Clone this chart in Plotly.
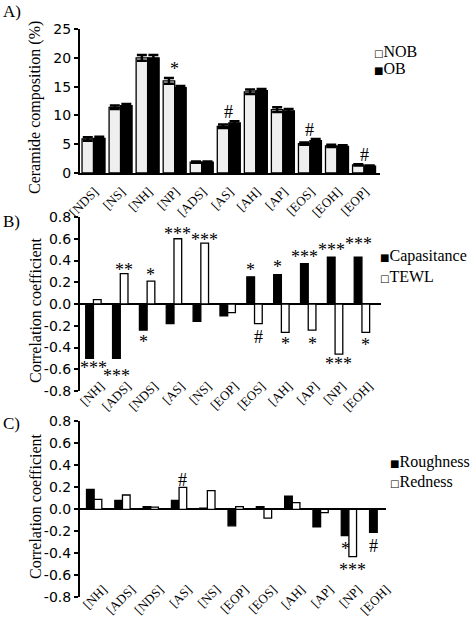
import plotly.graph_objects as go

W, H = 472, 619

# ---------------- Data ----------------
cat_A = ["[NDS]", "[NS]", "[NH]", "[NP]", "[ADS]", "[AS]", "[AH]", "[AP]", "[EOS]", "[EOH]", "[EOP]"]
nob = [5.9, 11.4, 20.0, 16.0, 1.9, 8.1, 14.1, 11.0, 5.1, 4.7, 1.4]
ob = [6.0, 11.7, 20.0, 14.8, 1.9, 8.7, 14.3, 10.8, 5.6, 4.6, 1.2]
nob_err = [0.3, 0.3, 0.5, 0.5, 0.1, 0.3, 0.4, 0.4, 0.2, 0.2, 0.1]
ob_err = [0.3, 0.3, 0.5, 0.3, 0.1, 0.3, 0.3, 0.3, 0.3, 0.2, 0.1]
sig_A = [(3, "*"), (5, "#"), (8, "#"), (10, "#")]  # (category index, text)

cat_B = ["[NH]", "[ADS]", "[NDS]", "[AS]", "[NS]", "[EOP]", "[EOS]", "[AH]", "[AP]", "[NP]", "[EOH]"]
capacitance = [-0.50, -0.50, -0.24, -0.18, -0.16, -0.11, 0.25, 0.27, 0.37, 0.43, 0.43]
tewl = [0.04, 0.28, 0.21, 0.60, 0.56, -0.08, -0.18, -0.26, -0.24, -0.46, -0.26]
# (category index, side: -1 black / +1 white / 0 centre, text, y)
sig_B = [(0, 0, "***", -0.56), (1, -1, "***", -0.63), (1, 1, "**", 0.34),
         (2, 1, "*", 0.29), (2, -1, "*", -0.32), (3, 1, "***", 0.67), (4, 1, "***", 0.62),
         (6, -1, "*", 0.34), (6, 1, "#", -0.275), (7, -1, "*", 0.37), (7, 1, "*", -0.34),
         (8, -1, "***", 0.46), (8, 1, "*", -0.34), (9, -1, "***", 0.52), (9, 1, "***", -0.52),
         (10, -1, "***", 0.58), (10, 1, "*", -0.35)]

cat_C = ["[NH]", "[ADS]", "[NDS]", "[AS]", "[NS]", "[EOP]", "[EOS]", "[AH]", "[AP]", "[NP]", "[EOH]"]
roughness = [0.18, 0.08, 0.025, 0.08, 0.01, -0.15, 0.025, 0.12, -0.16, -0.24, -0.21]
redness = [0.09, 0.13, 0.02, 0.20, 0.17, 0.025, -0.08, 0.06, -0.03, -0.43, 0.0]
sig_C = [(3, 1, "#", 0.29), (9, -1, "*", -0.33), (9, 1, "***", -0.52), (10, -1, "#", -0.31)]

corr_ticks = [-0.8, -0.6, -0.4, -0.2, 0.0, 0.2, 0.4, 0.6, 0.8]
corr_ticktext = ["-0.8", "-0.6", "-0.4", "-0.2", "0.0", "0.2", "0.4", "0.6", "0.8"]
comp_ticks = [0, 5, 10, 15, 20, 25]

# ---------------- Styling ----------------
SERIF = "Liberation Serif, Times New Roman, serif"
SANS = "DejaVu Sans, Arial, sans-serif"
LINE = dict(color="black", width=1.3)


def fx(p):
    return p / W


def fy(p):
    return 1 - p / H


fig = go.Figure()

# Panel A
wA = 0.425
fig.add_trace(go.Bar(x=cat_A, y=nob, name="NOB", marker=dict(color="#efefef", line=LINE),
                     width=wA, offset=-wA, xaxis="x", yaxis="y",
                     error_y=dict(type="data", array=nob_err, color="black", thickness=2.5, width=5)))
fig.add_trace(go.Bar(x=cat_A, y=ob, name="OB", marker=dict(color="black", line=LINE),
                     width=wA, offset=0, xaxis="x", yaxis="y",
                     error_y=dict(type="data", array=ob_err, color="black", thickness=2.5, width=5)))

# Panel B
wB = 0.287
fig.add_trace(go.Bar(x=cat_B, y=capacitance, name="Capasitance", marker=dict(color="black", line=LINE),
                     width=wB, offset=-wB, xaxis="x2", yaxis="y2"))
fig.add_trace(go.Bar(x=cat_B, y=tewl, name="TEWL", marker=dict(color="white", line=LINE),
                     width=wB, offset=0, xaxis="x2", yaxis="y2"))

# Panel C
wC = 0.27
fig.add_trace(go.Bar(x=cat_C, y=roughness, name="Roughness", marker=dict(color="black", line=LINE),
                     width=wC, offset=-wC, xaxis="x3", yaxis="y3"))
fig.add_trace(go.Bar(x=cat_C, y=redness, name="Redness", marker=dict(color="white", line=LINE),
                     width=wC, offset=0, xaxis="x3", yaxis="y3"))

STAR = dict(family=SERIF, size=18, color="black")
ann = []
# significance marks
for i, t in sig_A:
    top = max(nob[i] + nob_err[i], ob[i] + ob_err[i])
    ann.append(dict(x=i, y=top, xref="x", yref="y", text=t, showarrow=False,
                    yanchor="bottom", yshift=-3, font=STAR))
for i, side, t, yv in sig_B:
    ann.append(dict(x=i + side * wB / 2, y=yv, xref="x2", yref="y2", text=t, showarrow=False,
                    yanchor="middle", yshift=-3, font=STAR))
for i, side, t, yv in sig_C:
    ann.append(dict(x=i + side * wC / 2, y=yv, xref="x3", yref="y3", text=t, showarrow=False,
                    yanchor="middle", yshift=-3, font=STAR))

# panel letters
for lbl, yp in [("A)", 12), ("B)", 222), ("C)", 423)]:
    ann.append(dict(x=fx(1), y=fy(yp), xref="paper", yref="paper", text=lbl, showarrow=False,
                    xanchor="left", yanchor="middle", font=dict(family=SERIF, size=17, color="black")))

# y titles
for t, yp in [("Ceramide composition (%)", 108), ("Correlation coefficient", 310),
              ("Correlation coefficient", 506)]:
    ann.append(dict(x=fx(35), y=fy(yp), xref="paper", yref="paper", text=t, showarrow=False,
                    textangle=-90, xanchor="center", yanchor="middle",
                    font=dict(family=SERIF, size=16, color="black")))

# legends (symbol + label)
OPEN_SQ = "<span style='font-family:DejaVu Sans;font-size:10px'>\u25a1</span>"
FILL_SQ = "<span style='font-family:DejaVu Sans;font-size:10px'>\u25a0</span>"
for sym, t, xp, yp in [(OPEN_SQ, "NOB", 373, 51), (FILL_SQ, "OB", 373, 69),
                       (FILL_SQ, "Capasitance", 379, 256), (OPEN_SQ, "TEWL", 379, 276),
                       (FILL_SQ, "Roughness", 389, 462), (OPEN_SQ, "Redness", 389, 481)]:
    ann.append(dict(x=fx(xp), y=fy(yp), xref="paper", yref="paper", text=sym + t, showarrow=False,
                    xanchor="left", yanchor="middle", borderpad=0,
                    font=dict(family=SERIF, size=16, color="black")))

xcommon = dict(type="category", showgrid=False, zeroline=False, ticks="", tickangle=-45,
               tickfont=dict(family=SERIF, size=13, color="black"))
ycommon = dict(showgrid=False, showline=True, linecolor="black", linewidth=2, ticks="outside",
               ticklen=4, tickwidth=2, tickcolor="black", tickfont=dict(family=SANS, size=14, color="black"))

fig.update_layout(
    width=W, height=H, margin=dict(l=0, r=0, t=0, b=0, autoexpand=False),
    paper_bgcolor="white", plot_bgcolor="white", showlegend=False, barmode="group",
    annotations=ann,
    xaxis=dict(domain=[fx(80), fx(380)], range=[-0.5, 10.59], anchor="y",
               ticklabelstandoff=4, ticklabelshift=1,
               showline=True, linecolor="black", linewidth=2, **xcommon),
    yaxis=dict(domain=[fy(173), fy(29)], range=[0, 25], tickvals=comp_ticks, anchor="x",
               zeroline=False, **ycommon),
    xaxis2=dict(domain=[fx(80), fx(381)], range=[-0.5, 10.71], anchor="y2", showline=False,
                ticklabelstandoff=-16, ticklabelshift=7, **xcommon),
    yaxis2=dict(domain=[fy(391), fy(217)], range=[-0.8, 0.8], tickvals=corr_ticks,
                ticktext=corr_ticktext, anchor="x2", zeroline=True, zerolinecolor="black",
                zerolinewidth=2, **ycommon),
    xaxis3=dict(domain=[fx(80), fx(385.7)], range=[-0.5, 10.3], anchor="y3", showline=False,
                ticklabelstandoff=-19, ticklabelshift=9, **xcommon),
    yaxis3=dict(domain=[fy(597.3), fy(421.3)], range=[-0.8, 0.8], tickvals=corr_ticks,
                ticktext=corr_ticktext, anchor="x3", zeroline=True, zerolinecolor="black",
                zerolinewidth=2, **ycommon),
)

fig.write_html("out.html", config={"displayModeBar": False},
               post_script="document.body.style.margin='0';")
